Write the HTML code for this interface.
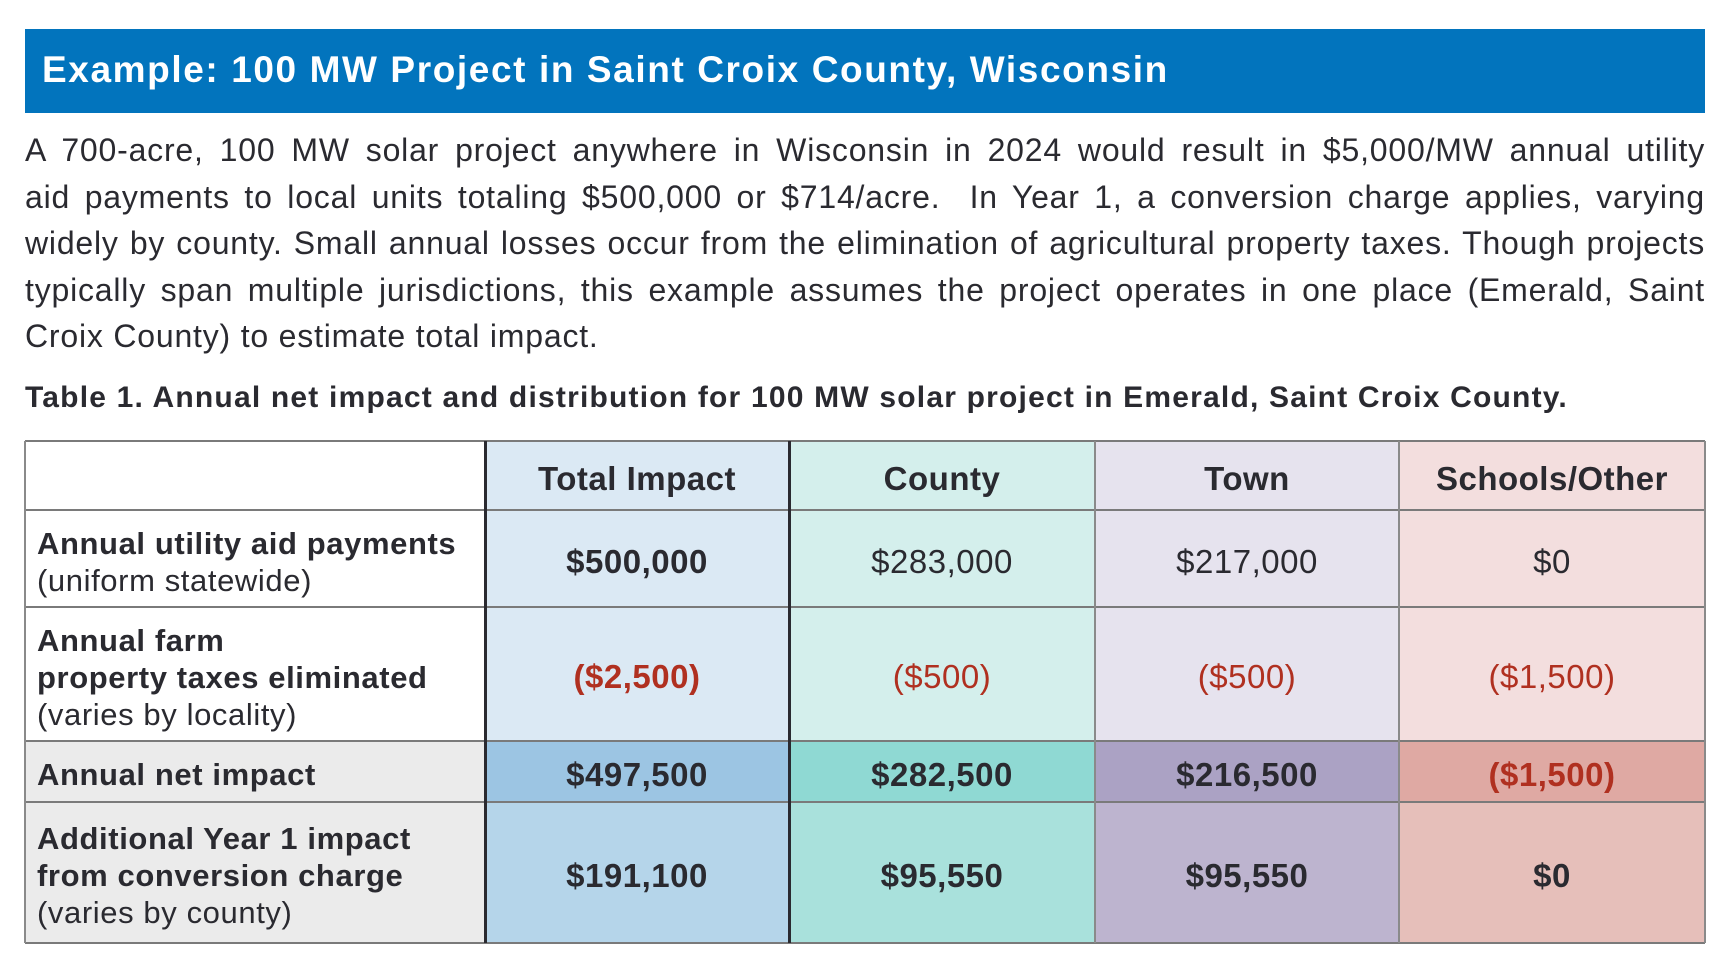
<!DOCTYPE html>
<html><head><meta charset="utf-8">
<style>
html,body{margin:0;padding:0;background:#fff;}
body{width:1722px;height:966px;position:relative;overflow:hidden;font-family:"Liberation Sans",sans-serif;color:#2a2a30;}
#hdr{position:absolute;left:25px;top:29px;width:1680px;height:84px;background:#0274bd;}
#hdr span{position:absolute;left:17px;top:20px;font-size:37px;font-weight:bold;color:#fff;letter-spacing:1.6px;}
#para{position:absolute;left:25px;top:127px;width:1680px;font-size:32px;line-height:46.5px;letter-spacing:0.8px;}
#para div{text-align:justify;text-align-last:justify;white-space:nowrap;}
#para div.last{text-align-last:left;}
#cap{position:absolute;left:25px;top:381px;font-size:30px;font-weight:bold;letter-spacing:1.2px;}
.c{position:absolute;box-sizing:border-box;display:flex;align-items:center;justify-content:center;text-align:center;font-size:33px;letter-spacing:0.5px;}
.l{justify-content:flex-start;text-align:left;padding-left:12px;line-height:37px;font-size:31px;letter-spacing:0.6px;}
.b{font-weight:bold;}
.r{color:#b03020;}
.hl{position:absolute;height:2px;background:#7a7a7a;left:25px;width:1680px;}
.vl{position:absolute;width:2px;background:#8a8a8a;top:441px;height:502px;}
.vt{position:absolute;width:3px;background:#2a2a30;top:441px;height:502px;}
</style></head><body>
<div id="hdr"><span>Example: 100 MW Project in Saint Croix County, Wisconsin</span></div>
<div id="para">
<div>A 700-acre, 100 MW solar project anywhere in Wisconsin in 2024 would result in $5,000/MW annual utility</div>
<div>aid payments to local units totaling $500,000 or $714/acre.&nbsp; In Year 1, a conversion charge applies, varying</div>
<div>widely by county. Small annual losses occur from the elimination of agricultural property taxes. Though projects</div>
<div>typically span multiple jurisdictions, this example assumes the project operates in one place (Emerald, Saint</div>
<div class="last">Croix County) to estimate total impact.</div>
</div>
<div id="cap">Table 1. Annual net impact and distribution for 100 MW solar project in Emerald, Saint Croix County.</div>
<div id="tbl"></div>
<script>
const columns=["Total Impact","County","Town","Schools/Other"];
const rowLabels=[
 ["Annual utility aid payments","(uniform statewide)"],
 ["Annual farm<br>property taxes eliminated","(varies by locality)"],
 ["Annual net impact",""],
 ["Additional Year 1 impact<br>from conversion charge","(varies by county)"]];
const row1=["$500,000","$283,000","$217,000","$0"];
const row2=["($2,500)","($500)","($500)","($1,500)"];
const row3=["$497,500","$282,500","$216,500","($1,500)"];
const row4=["$191,100","$95,550","$95,550","$0"];
const values=[row1,row2,row3,row4];
const xs=[25,485,789,1095,1399,1705];
const ys=[441,510,607,741,802,943];
const light=["#dbe9f4","#d4efec","#e6e3ee","#f3dede"];
const netC=["#9cc5e3","#8fd9d3","#aba2c4","#dfa9a3"];
const addC=["#b5d5ea","#a9e1dc","#bdb4cf","#e6bfba"];
const t=document.getElementById('tbl');
function cell(x0,x1,y0,y1,bg,html,cls){
 const d=document.createElement('div');
 d.className='c '+cls;
 d.style.left=x0+'px';d.style.width=(x1-x0)+'px';d.style.top=y0+'px';d.style.height=(y1-y0)+'px';
 d.style.paddingTop='6px';
 d.style.background=bg;d.innerHTML=html;t.appendChild(d);return d;}
let h=cell(xs[0],xs[1],ys[0],ys[1],'#fff','','l');


columns.forEach((c,i)=>{
 const d=cell(xs[i+1],xs[i+2],ys[0],ys[1],light[i],c,'b');
 
 
});
rowLabels.forEach((r,j)=>{
 const bg=j<2?'#fff':'#ebebeb';
 const html='<div><span class="b">'+r[0]+'</span>'+(r[1]?'<br>'+r[1]:'')+'</div>';
 const d=cell(xs[0],xs[1],ys[j+1],ys[j+2],bg,html,'l');
 
 
 values[j].forEach((v,i)=>{
  let bgc=j<2?light[i]:(j==2?netC[i]:addC[i]);
  let cls='';
  if(v.startsWith('(')) cls+=' r';
  if(j>=2||(j<2&&i==0)) cls+=' b';
  const c=cell(xs[i+1],xs[i+2],ys[j+1],ys[j+2],bgc,v,cls);
  
  
 });
});
ys.forEach((y,k)=>{const l=document.createElement('div');l.className='hl';l.style.top=(y-1)+'px';t.appendChild(l);
 
 });
xs.forEach((x,k)=>{const l=document.createElement('div');l.className=(k==1||k==2)?'vt':'vl';l.style.left=(x-1)+'px';t.appendChild(l);
 
 });
</script>
</body></html>
